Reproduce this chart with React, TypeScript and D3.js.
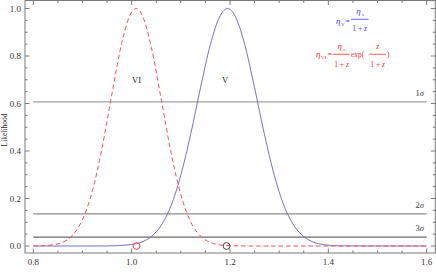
import React from "react";
import * as d3 from "d3";

// ---- data ----
const vixX = [0.8, 0.82, 0.84, 0.86, 0.88, 0.9, 0.92, 0.94, 0.96, 0.98, 1.0, 1.01, 1.02, 1.04, 1.06, 1.08, 1.1, 1.12, 1.14, 1.16, 1.18, 1.2, 1.25, 1.3, 1.4, 1.5, 1.6];
const vixL = [0.0003, 0.0014, 0.005, 0.016, 0.046, 0.111, 0.231, 0.415, 0.641, 0.856, 0.985, 1.0, 0.978, 0.837, 0.619, 0.394, 0.216, 0.102, 0.042, 0.015, 0.0045, 0.0012, 0, 0, 0, 0, 0];

const vX = [0.8, 0.9, 0.95, 1.0, 1.02, 1.04, 1.06, 1.08, 1.1, 1.12, 1.14, 1.16, 1.18, 1.195, 1.21, 1.23, 1.25, 1.27, 1.29, 1.31, 1.33, 1.35, 1.37, 1.39, 1.42, 1.45, 1.5, 1.6];
const vL = [0, 0, 0.0003, 0.006, 0.016, 0.04, 0.086, 0.169, 0.298, 0.47, 0.666, 0.848, 0.97, 1.0, 0.97, 0.848, 0.666, 0.47, 0.298, 0.169, 0.086, 0.04, 0.016, 0.006, 0.001, 0.0002, 0, 0];

const sigmaLevels = [0.607, 0.135, 0.037];
const sigmaNames = ["1", "2", "3"];
const sigmaColors = ["#a0a0a0", "#8c8c8c", "#6a6a6a"];

const markers = [
  { x: 1.01, y: 0, color: "#ff3333" },
  { x: 1.193, y: 0, color: "#333333" },
];

const curveLabels = [
  { name: "VI", x: 1.01, y: 0.7 },
  { name: "V", x: 1.19, y: 0.7 },
];

const xMajor = [0.8, 1.0, 1.2, 1.4, 1.6];
const yMajor = [0.0, 0.2, 0.4, 0.6, 0.8, 1.0];

export default function App() {
  const W = 436, H = 277;
  const frame = { left: 25, right: 435.3, top: 0.5, bottom: 253 };
  const x = d3.scaleLinear().domain([0.8, 1.6]).range([33.3, 426.7]);
  const y = d3.scaleLinear().domain([0, 1]).range([246, 8.5]);

  const line = d3
    .line<[number, number]>()
    .x((d) => x(d[0]))
    .y((d) => y(d[1]))
    .curve(d3.curveMonotoneX);

  const redPath = line(vixX.map((v, i) => [v, vixL[i]] as [number, number])) || "";
  const bluePath = line(vX.map((v, i) => [v, vL[i]] as [number, number])) || "";

  const xMinor = d3.range(0, 17).map((i) => 0.8 + i * 0.05);
  const yMinor = d3.range(-0, 21).map((i) => i * 0.05);

  const font = "'Liberation Serif', 'DejaVu Serif', serif";
  const frameColor = "#7a7a7a";
  const blue = "#3c3cff";
  const red = "#ff3030";

  return (
    <svg width={W} height={H} style={{ position: "absolute", left: 0, top: 0 }} fontFamily={font}>
      <rect x={0} y={0} width={W} height={H} fill="#fff" />
      {/* sigma lines */}
      {sigmaLevels.map((s, i) => (
        <g key={"s" + i}>
          <line x1={x(0.8)} x2={x(1.6)} y1={y(s)} y2={y(s)} stroke={sigmaColors[i]} strokeWidth={1.3} />
          <text x={424} y={y(s) - 6} fontSize={8.5} textAnchor="end" fill="#333">
            {sigmaNames[i]}
            <tspan fontStyle="italic">σ</tspan>
          </text>
        </g>
      ))}
      {/* curves */}
      <path d={bluePath} fill="none" stroke="#6464c0" strokeWidth={0.9} />
      <path d={redPath} fill="none" stroke="#ff5050" strokeWidth={1} strokeDasharray="4.5,3" />
      {markers.map((m, i) => (
        <circle key={"m" + i} cx={x(m.x)} cy={y(m.y)} r={3.4} fill="none" stroke={m.color} strokeWidth={0.9} />
      ))}
      {curveLabels.map((c, i) => (
        <text key={"c" + i} x={x(c.x)} y={y(c.y) + 3} fontSize={8.5} textAnchor="middle" fill="#222">
          {c.name}
        </text>
      ))}
      {/* frame */}
      <rect x={frame.left} y={frame.top} width={frame.right - frame.left} height={frame.bottom - frame.top} fill="none" stroke={frameColor} strokeWidth={1} />
      {/* x ticks */}
      {xMinor.map((v, i) => {
        const major = xMajor.some((m) => Math.abs(m - v) < 1e-6);
        const len = major ? 4.5 : 2.5;
        return (
          <g key={"xt" + i}>
            <line x1={x(v)} x2={x(v)} y1={frame.bottom} y2={frame.bottom - len} stroke={frameColor} />
            <line x1={x(v)} x2={x(v)} y1={frame.top} y2={frame.top + len} stroke={frameColor} />
          </g>
        );
      })}
      {xMajor.map((v, i) => (
        <text key={"xl" + i} x={x(v)} y={264.5} fontSize={9} textAnchor="middle" fill="#333">
          {v.toFixed(1)}
        </text>
      ))}
      {/* y ticks */}
      {yMinor.map((v, i) => {
        const major = yMajor.some((m) => Math.abs(m - v) < 1e-6);
        const len = major ? 4.5 : 2.5;
        return (
          <g key={"yt" + i}>
            <line x1={frame.left} x2={frame.left + len} y1={y(v)} y2={y(v)} stroke={frameColor} />
            <line x1={frame.right} x2={frame.right - len} y1={y(v)} y2={y(v)} stroke={frameColor} />
          </g>
        );
      })}
      {yMajor.map((v, i) => (
        <text key={"yl" + i} x={21} y={y(v) + 3} fontSize={9} textAnchor="end" fill="#333">
          {v.toFixed(1)}
        </text>
      ))}
      <text transform={`translate(7,${130}) rotate(-90)`} fontSize={7.5} textAnchor="middle" fill="#222">
        Likelihood
      </text>
      {/* blue formula */}
      <g fill={blue} fontSize={7.5}>
        <text x={336} y={23.5} fontStyle="italic" fontSize={9}>η</text>
        <text x={341} y={25.5} fontSize={5}>V</text>
        <text x={345.5} y={23.5}>=</text>
        <line x1={351} x2={368.5} y1={19.3} y2={19.3} stroke={blue} strokeWidth={0.8} />
        <text x={358.5} y={14} textAnchor="middle" fontStyle="italic" fontSize={9}>η</text>
        <text x={362} y={15.5} fontSize={5}>s</text>
        <text x={359.7} y={30.5} textAnchor="middle">1 + <tspan fontStyle="italic">z</tspan></text>
      </g>
      {/* red formula */}
      <g fill={red} fontSize={7.5}>
        <text x={316} y={57} fontStyle="italic" fontSize={9}>η</text>
        <text x={321} y={59} fontSize={5}>VI</text>
        <text x={327.8} y={57}>=</text>
        <line x1={333.3} x2={349.3} y1={54.3} y2={54.3} stroke={red} strokeWidth={0.8} />
        <text x={339.8} y={49} textAnchor="middle" fontStyle="italic" fontSize={9}>η</text>
        <text x={343.3} y={50.5} fontSize={5}>s</text>
        <text x={341.5} y={66.5} textAnchor="middle">1 + <tspan fontStyle="italic">z</tspan></text>
        <text x={351} y={57}>exp(</text>
        <line x1={369.3} x2={386} y1={54.3} y2={54.3} stroke={red} strokeWidth={0.8} />
        <text x={377.7} y={49} textAnchor="middle" fontStyle="italic">z</text>
        <text x={377.7} y={66.5} textAnchor="middle">1 + <tspan fontStyle="italic">z</tspan></text>
        <text x={387} y={57}>)</text>
      </g>
    </svg>
  );
}
